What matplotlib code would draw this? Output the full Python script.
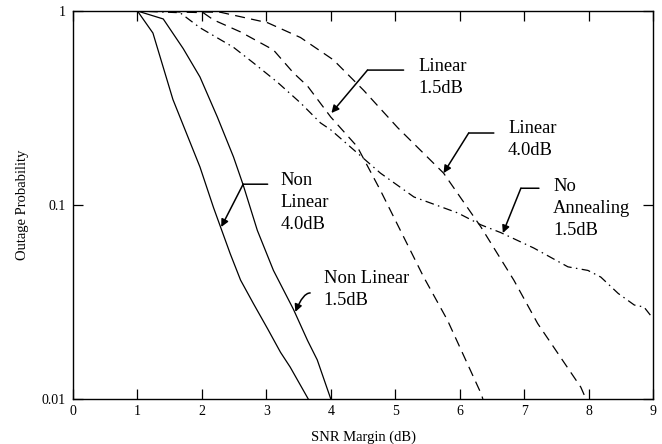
import matplotlib
matplotlib.use("Agg")
import matplotlib.pyplot as plt
from matplotlib.ticker import FixedLocator, FixedFormatter, NullLocator

plt.rcParams['font.family'] = ['Liberation Serif', 'DejaVu Serif']

# Outage probability vs SNR margin
nl40_x = [0, 1.0, 1.24, 1.55, 1.97, 2.18, 2.44, 2.60, 2.80, 3.02, 3.22, 3.37, 3.65]
nl40_y = [1, 1, 0.77, 0.35, 0.157, 0.097, 0.056, 0.041, 0.031, 0.023, 0.0174, 0.0146, 0.01]

nl15_x = [0, 1.0, 1.40, 1.71, 1.97, 2.24, 2.49, 2.64, 2.86, 3.11, 3.42, 3.64, 3.79, 4.0]
nl15_y = [1, 1, 0.91, 0.64, 0.457, 0.284, 0.177, 0.127, 0.074, 0.046, 0.029, 0.020, 0.0159, 0.01]

lin40_x = [0, 1.3, 2.29, 3.02, 3.53, 4.04, 4.51, 5.04, 5.75, 6.33, 6.84, 7.21, 7.88, 7.96]
lin40_y = [1, 1, 0.985, 0.87, 0.73, 0.56, 0.39, 0.25, 0.146, 0.077, 0.041, 0.0245, 0.0115, 0.01]

lin15_x = [0, 1.2, 2.02, 2.18, 2.60, 3.11, 3.42, 3.64, 4.0, 4.41, 4.77, 5.44, 5.81, 6.33, 6.36]
lin15_y = [1, 1, 0.98, 0.90, 0.78, 0.63, 0.48, 0.41, 0.284, 0.20, 0.119, 0.0426, 0.0255, 0.0107, 0.01]

noann_x = [0, 1.0, 1.66, 1.97, 2.49, 2.80, 3.17, 3.53, 3.84, 4.0, 4.77, 5.29, 5.97, 6.33,
           6.64, 7.15, 7.68, 7.99, 8.19, 8.46, 8.71, 8.86, 9.0]
noann_y = [1, 1, 0.98, 0.82, 0.65, 0.54, 0.43, 0.336, 0.265, 0.244, 0.146, 0.11, 0.091, 0.079,
           0.072, 0.06, 0.048, 0.046, 0.0425, 0.035, 0.0305, 0.0298, 0.026]

x_ticks = [0, 1, 2, 3, 4, 5, 6, 7, 8, 9]
y_ticks = [0.01, 0.1, 1]
y_tick_labels = ['0.01', '0.1', '1']

# label text, anchor (baseline of last line), line start, corner, arrow tip
labels = [
    ("Linear\n1.5dB", (5.36, 0.378), (5.13, 0.496), (4.57, 0.496), (4.01, 0.298)),
    ("Linear\n4.0dB", (6.75, 0.181), (6.53, 0.235), (6.14, 0.235), (5.75, 0.146)),
    ("No\nAnnealing\n1.5dB", (7.45, 0.070), (7.23, 0.122), (6.95, 0.122), (6.67, 0.0717)),
    ("Non\nLinear\n4.0dB", (3.22, 0.0752), (3.02, 0.128), (2.64, 0.128), (2.30, 0.077)),
]
curved_label = ("Non Linear\n1.5dB", (3.89, 0.0305), (3.68, 0.0352), (3.45, 0.0281))

fig = plt.figure(figsize=(6.62, 4.44), dpi=100)
ax = fig.add_axes([0.1103, 0.1014, 0.8761, 0.8738])

ax.plot(nl40_x, nl40_y, color='black', lw=0.9)
ax.plot(nl15_x, nl15_y, color='black', lw=0.9)
ax.plot(lin15_x, lin15_y, color='black', lw=0.9, linestyle=(0, (8, 5)))
ax.plot(lin40_x, lin40_y, color='black', lw=0.9, linestyle=(0, (8, 5)))
ax.plot(noann_x, noann_y, color='black', lw=0.9, linestyle=(0, (7, 3.5, 1.2, 3.5)))

ax.set_yscale('log')
ax.set_xlim(0, 9)
ax.set_ylim(0.01, 1)

ax.xaxis.set_major_locator(FixedLocator(x_ticks))
ax.yaxis.set_major_locator(FixedLocator(y_ticks))
ax.yaxis.set_major_formatter(FixedFormatter(y_tick_labels))
ax.yaxis.set_minor_locator(NullLocator())
ax.tick_params(direction='in', length=7.5, width=0.9, labelsize=10,
               top=True, right=True)
ax.tick_params(axis='x', pad=4)
ax.tick_params(axis='y', pad=5)
for s in ax.spines.values():
    s.set_linewidth(1.0)

ax.set_xlabel('SNR Margin (dB)', fontsize=10.5, labelpad=9)
ax.set_ylabel('Outage Probability', fontsize=10.5, labelpad=9)

arrow = dict(arrowstyle='-|>', color='black', lw=1.1, mutation_scale=11,
             shrinkA=0, shrinkB=0)
line = dict(arrowstyle='-', color='black', lw=1.1, shrinkA=0, shrinkB=0)

for text, pos, start, corner, tip in labels:
    ax.text(pos[0], pos[1], text, fontsize=13.3, ha='left', va='baseline',
            linespacing=1.4)
    ax.annotate('', xy=corner, xytext=start, arrowprops=line)
    ax.annotate('', xy=tip, xytext=corner, arrowprops=arrow)

text, pos, start, tip = curved_label
ax.text(pos[0], pos[1], text, fontsize=13.3, ha='left', va='baseline',
        linespacing=1.4)
ax.annotate('', xy=tip, xytext=start,
            arrowprops=dict(arrow, connectionstyle='angle3,angleA=0,angleB=68'))

fig.savefig('out.png', dpi=100)
